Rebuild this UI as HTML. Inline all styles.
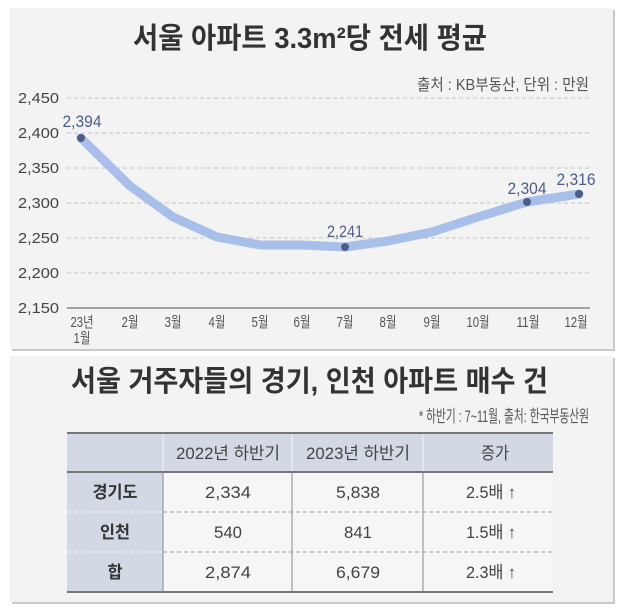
<!DOCTYPE html>
<html>
<head>
<meta charset="utf-8">
<style>
html,body{margin:0;padding:0;background:#fff;}
svg{display:block;}
text{font-family:"Liberation Sans","Noto Sans CJK KR",sans-serif;}
</style>
</head>
<body>
<svg width="620" height="611" viewBox="0 0 620 611" xmlns="http://www.w3.org/2000/svg">
  <!-- Panel 1 -->
  <rect x="12" y="10" width="603" height="341" fill="#c9c9c9"/>
  <rect x="10" y="8" width="603" height="341" fill="#f3f3f3"/>
  <!-- Panel 2 -->
  <rect x="12" y="358" width="603" height="246" fill="#c9c9c9"/>
  <rect x="10" y="356" width="603" height="246" fill="#f3f3f3"/>

  <!-- Title 1 -->
  <text x="133" y="48" font-size="29" font-weight="bold" fill="#333" textLength="354" lengthAdjust="spacingAndGlyphs">서울 아파트 3.3m²당 전세 평균</text>
  <text x="417" y="90" font-size="16" fill="#555" textLength="172" lengthAdjust="spacingAndGlyphs">출처 : KB부동산, 단위 : 만원</text>

  <!-- Gridlines -->
  <g stroke="#c6c6c6" stroke-width="1" stroke-dasharray="4,3">
    <line x1="67" y1="98" x2="590" y2="98"/>
    <line x1="67" y1="133" x2="590" y2="133"/>
    <line x1="67" y1="168" x2="590" y2="168"/>
    <line x1="67" y1="203" x2="590" y2="203"/>
    <line x1="67" y1="238" x2="590" y2="238"/>
    <line x1="67" y1="273" x2="590" y2="273"/>
  </g>
  <line x1="67" y1="308" x2="590" y2="308" stroke="#888" stroke-width="1.5"/>

  <!-- Y labels -->
  <g font-size="15" fill="#444" text-anchor="end">
    <text x="59" y="103" textLength="41" lengthAdjust="spacingAndGlyphs">2,450</text>
    <text x="59" y="138" textLength="41" lengthAdjust="spacingAndGlyphs">2,400</text>
    <text x="59" y="173" textLength="41" lengthAdjust="spacingAndGlyphs">2,350</text>
    <text x="59" y="208" textLength="41" lengthAdjust="spacingAndGlyphs">2,300</text>
    <text x="59" y="243" textLength="41" lengthAdjust="spacingAndGlyphs">2,250</text>
    <text x="59" y="278" textLength="41" lengthAdjust="spacingAndGlyphs">2,200</text>
    <text x="59" y="313" textLength="41" lengthAdjust="spacingAndGlyphs">2,150</text>
  </g>

  <!-- X labels -->
  <g font-size="15" fill="#555" text-anchor="middle">
    <text x="82" y="327" textLength="23" lengthAdjust="spacingAndGlyphs">23년</text>
    <text x="82" y="343" textLength="17" lengthAdjust="spacingAndGlyphs">1월</text>
    <text x="130" y="327" textLength="17" lengthAdjust="spacingAndGlyphs">2월</text>
    <text x="173" y="327" textLength="17" lengthAdjust="spacingAndGlyphs">3월</text>
    <text x="217" y="327" textLength="17" lengthAdjust="spacingAndGlyphs">4월</text>
    <text x="260" y="327" textLength="17" lengthAdjust="spacingAndGlyphs">5월</text>
    <text x="302" y="327" textLength="17" lengthAdjust="spacingAndGlyphs">6월</text>
    <text x="345" y="327" textLength="17" lengthAdjust="spacingAndGlyphs">7월</text>
    <text x="388" y="327" textLength="17" lengthAdjust="spacingAndGlyphs">8월</text>
    <text x="432" y="327" textLength="17" lengthAdjust="spacingAndGlyphs">9월</text>
    <text x="478" y="327" textLength="23" lengthAdjust="spacingAndGlyphs">10월</text>
    <text x="528" y="327" textLength="23" lengthAdjust="spacingAndGlyphs">11월</text>
    <text x="576" y="327" textLength="23" lengthAdjust="spacingAndGlyphs">12월</text>
  </g>

  <!-- Series line -->
  <polyline points="81,138 130,186 173,217 217,237 260,245 302,245 345,247 388,241 432,232 478,217 527,202 579,194"
    fill="none" stroke="#a8bfe9" stroke-width="9" stroke-linejoin="round" stroke-linecap="round"/>
  <g fill="#4c5d87">
    <circle cx="81" cy="138" r="4"/>
    <circle cx="345" cy="247" r="4"/>
    <circle cx="527" cy="202" r="4"/>
    <circle cx="579" cy="194" r="4"/>
  </g>
  <g font-size="17" fill="#4c5d87" text-anchor="middle">
    <text x="82" y="127" textLength="39" lengthAdjust="spacingAndGlyphs">2,394</text>
    <text x="345" y="237" textLength="36" lengthAdjust="spacingAndGlyphs">2,241</text>
    <text x="527" y="194" textLength="39" lengthAdjust="spacingAndGlyphs">2,304</text>
    <text x="576" y="185" textLength="39" lengthAdjust="spacingAndGlyphs">2,316</text>
  </g>

  <!-- Title 2 -->
  <text x="71" y="391" font-size="29" font-weight="bold" fill="#333" textLength="477" lengthAdjust="spacingAndGlyphs">서울 거주자들의 경기, 인천 아파트 매수 건</text>
  <text x="419" y="422" font-size="17" fill="#555" textLength="170" lengthAdjust="spacingAndGlyphs">* 하반기 : 7~11월, 출처: 한국부동산원</text>

  <!-- Table -->
  <rect x="67" y="433" width="486" height="39" fill="#d2d9e5"/>
  <rect x="67" y="472" width="96" height="120" fill="#d2d9e5"/>
  <rect x="163" y="472" width="390" height="120" fill="#f6f6f6"/>
  <!-- header dividers (white) -->
  <g stroke="#f4f6fa" stroke-width="1">
    <line x1="163" y1="434" x2="163" y2="471"/>
    <line x1="292" y1="434" x2="292" y2="471"/>
    <line x1="423" y1="434" x2="423" y2="471"/>
  </g>
  <!-- body dividers -->
  <g stroke="#8a8a8a" stroke-width="1">
    <line x1="163" y1="472" x2="163" y2="592"/>
    <line x1="292" y1="472" x2="292" y2="592"/>
    <line x1="423" y1="472" x2="423" y2="592"/>
  </g>
  <g stroke="#999" stroke-width="1" stroke-dasharray="4,3">
    <line x1="163" y1="512" x2="553" y2="512"/>
    <line x1="163" y1="552" x2="553" y2="552"/>
  </g>
  <g stroke="#f4f6fa" stroke-width="1" stroke-dasharray="4,3">
    <line x1="67" y1="512" x2="163" y2="512"/>
    <line x1="67" y1="552" x2="163" y2="552"/>
  </g>
  <g stroke="#777" stroke-width="2">
    <line x1="67" y1="433" x2="553" y2="433"/>
    <line x1="67" y1="472" x2="553" y2="472"/>
    <line x1="67" y1="592" x2="553" y2="592"/>
  </g>

  <g font-size="17" fill="#444" text-anchor="middle">
    <text x="228" y="459" textLength="104" lengthAdjust="spacingAndGlyphs">2022년 하반기</text>
    <text x="358" y="459" textLength="104" lengthAdjust="spacingAndGlyphs">2023년 하반기</text>
    <text x="495" y="459" textLength="28" lengthAdjust="spacingAndGlyphs">증가</text>
  </g>
  <g font-size="17" fill="#333" font-weight="bold" text-anchor="middle">
    <text x="115" y="498" textLength="45" lengthAdjust="spacingAndGlyphs">경기도</text>
    <text x="115" y="538" textLength="30" lengthAdjust="spacingAndGlyphs">인천</text>
    <text x="115" y="578" textLength="15" lengthAdjust="spacingAndGlyphs">합</text>
  </g>
  <g font-size="17" fill="#444" text-anchor="middle">
    <text x="228" y="498" textLength="46" lengthAdjust="spacingAndGlyphs">2,334</text>
    <text x="358" y="498" textLength="44" lengthAdjust="spacingAndGlyphs">5,838</text>
    <text x="491" y="498" textLength="50" lengthAdjust="spacingAndGlyphs">2.5배 ↑</text>
    <text x="228" y="538" textLength="28" lengthAdjust="spacingAndGlyphs">540</text>
    <text x="358" y="538" textLength="28" lengthAdjust="spacingAndGlyphs">841</text>
    <text x="491" y="538" textLength="50" lengthAdjust="spacingAndGlyphs">1.5배 ↑</text>
    <text x="228" y="578" textLength="46" lengthAdjust="spacingAndGlyphs">2,874</text>
    <text x="358" y="578" textLength="44" lengthAdjust="spacingAndGlyphs">6,679</text>
    <text x="491" y="578" textLength="50" lengthAdjust="spacingAndGlyphs">2.3배 ↑</text>
  </g>
</svg>
</body>
</html>
